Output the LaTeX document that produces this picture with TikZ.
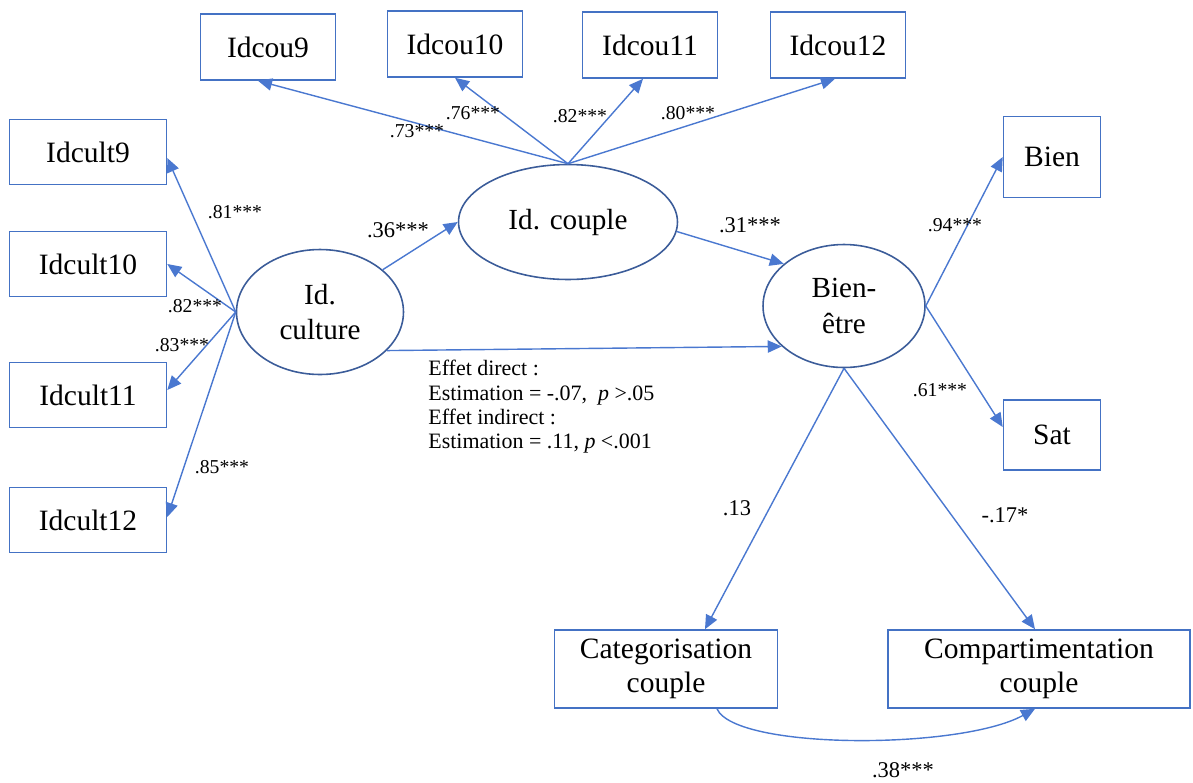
\documentclass[tikz,border=0pt]{standalone}
\usepackage{fontspec}
\setmainfont{Liberation Serif}
\usetikzlibrary{arrows.meta,shapes.geometric}
\definecolor{boxblue}{HTML}{4472C4}
\definecolor{ellblue}{HTML}{3B5C99}
\definecolor{arrblue}{HTML}{4A78D0}

\begin{document}
\begin{tikzpicture}[x=0.02cm, y=-0.02cm,
  obs/.style={draw=boxblue, line width=0.9pt, rectangle, inner sep=0pt, align=center, font=\fontsize{16.8}{19.5}\selectfont},
  lat/.style={draw=ellblue, line width=0.9pt, ellipse, inner sep=0pt, align=center, font=\fontsize{16.6}{20.4}\selectfont},
  arr/.style={draw=arrblue, line width=0.8pt, -{Triangle[length=8pt,width=7pt]}},
  coef/.style={font=\fontsize{11.2}{12}\selectfont, inner sep=0pt},
  bigcoef/.style={font=\fontsize{12.8}{14}\selectfont, inner sep=0pt}]
  \useasboundingbox (0,0) rectangle (1193,782);

  % 潜变量
  \node[lat, minimum width=3.34cm, minimum height=2.5cm] (cult) at (320,312) {Id.\\culture};
  \node[lat, minimum width=4.38cm, minimum height=2.3cm] (cpl) at (568,222) {Id. couple};
  \node[lat, minimum width=3.24cm, minimum height=2.46cm] (be) at (844,306) {Bien-\\être};

  % 指标（上方）
  \node[obs, minimum width=2.7cm, minimum height=1.32cm] (cou9) at (268,47) {Idcou9};
  \node[obs, minimum width=2.7cm, minimum height=1.32cm] (cou10) at (455,44) {Idcou10};
  \node[obs, minimum width=2.7cm, minimum height=1.32cm] (cou11) at (650,45) {Idcou11};
  \node[obs, minimum width=2.7cm, minimum height=1.32cm] (cou12) at (838,45) {Idcou12};

  % 指标（左侧）
  \node[obs, minimum width=3.14cm, minimum height=1.3cm] (cult9) at (88,152) {Idcult9};
  \node[obs, minimum width=3.14cm, minimum height=1.3cm] (cult10) at (88,264) {Idcult10};
  \node[obs, minimum width=3.14cm, minimum height=1.3cm] (cult11) at (88,395) {Idcult11};
  \node[obs, minimum width=3.14cm, minimum height=1.3cm] (cult12) at (88,520) {Idcult12};

  % 指标（右侧、下方）
  \node[obs, minimum width=1.94cm, minimum height=1.62cm] (bien) at (1052,157) {Bien};
  \node[obs, minimum width=1.94cm, minimum height=1.4cm] (sat) at (1052,435) {Sat};
  \node[obs, minimum width=4.46cm, minimum height=1.56cm] (cat) at (666,669) {Categorisation\\couple};
  \node[obs, minimum width=6.04cm, minimum height=1.56cm] (comp) at (1039,669) {Compartimentation\\couple};

  % 载荷
  \draw[arr] (cpl.north) -- ([xshift=-0.2cm]cou9.south);
  \draw[arr] (cpl.north) -- (cou10.south);
  \draw[arr] (cpl.north) -- ([xshift=-0.14cm]cou11.south);
  \draw[arr] (cpl.north) -- ([xshift=-0.06cm]cou12.south);
  \draw[arr] (cult.west) -- ([yshift=-0.12cm]cult9.east);
  \draw[arr] (cult.west) -- (cult10.east);
  \draw[arr] (cult.west) -- ([yshift=0.1cm]cult11.east);
  \draw[arr] (cult.west) -- ([yshift=0.06cm]cult12.east);
  \draw[arr] (be.east) -- (bien.west);
  \draw[arr] (be.east) -- ([yshift=0.16cm]sat.west);

  % 结构路径
  \draw[arr] (cult.34) -- (cpl.west);
  \draw[arr] (cpl.-5) -- (be.145);
  \draw[arr] (cult.-30) -- (be.213);
  \draw[arr] (be.south) -- ([xshift=0.78cm]cat.north);
  \draw[arr] (be.south) -- ([xshift=-0.08cm]comp.north);
  \draw[arr] ([xshift=1.02cm]cat.south) .. controls (735,750) and (960,750) .. ([xshift=-0.08cm]comp.south);

  % 系数
  \node[coef] (l73) at (417,131) {.73***};
  \node[coef] (l76) at (473,113) {.76***};
  \node[coef] (l82a) at (580,116) {.82***};
  \node[coef] (l80) at (688,113) {.80***};
  \node[coef] (l81) at (235,212) {.81***};
  \node[coef] (l82b) at (195,306) {.82***};
  \node[coef] (l83) at (182,345) {.83***};
  \node[coef] (l85) at (222,467) {.85***};
  \node[coef] (l94) at (955,225) {.94***};
  \node[coef] (l61) at (940,390) {.61***};
  \node[bigcoef] (l36) at (398,230) {.36***};
  \node[bigcoef] (l31) at (750,225) {.31***};
  \node[bigcoef] (l13) at (737,508) {.13};
  \node[bigcoef] (l17) at (1005,515) {-.17*};
  \node[bigcoef] (l38) at (903,770) {.38***};

  \node[anchor=north west, align=left, inner sep=0pt, font=\fontsize{12.5}{13.8}\selectfont] (eff) at (428,360)
    {Effet direct :\\Estimation = -.07,\ \ \textit{p} >.05\\Effet indirect :\\Estimation = .11, \textit{p} <.001};
\end{tikzpicture}
\end{document}
